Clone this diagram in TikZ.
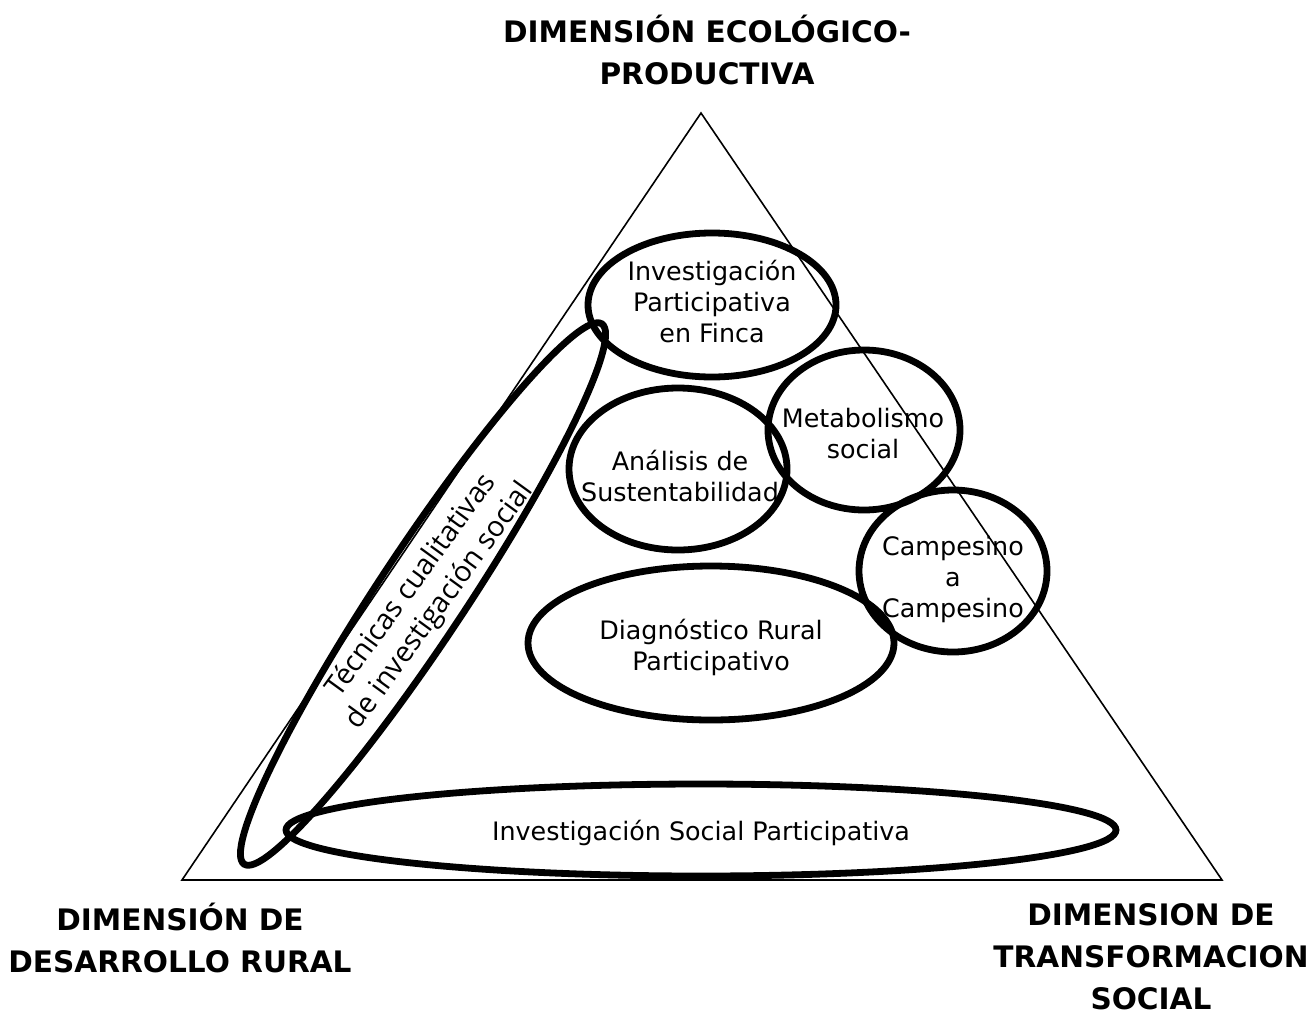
\documentclass[tikz,border=0pt]{standalone}
\usepackage{fontspec}
\setmainfont{DejaVu Sans}
\newfontfamily\rotfont{Open Sans}
\usetikzlibrary{shapes.geometric}

\begin{document}
\begin{tikzpicture}[x=0.5pt, y=-0.5pt,
    oval/.style={draw, ellipse, line width=3.4pt, inner sep=0pt, outer sep=0pt},
    lbl/.style={align=center, font=\fontsize{12.7}{15.5}\selectfont},
    dim/.style={align=center, inner sep=0pt, font=\fontsize{14.8}{21}\selectfont\bfseries}]
    \useasboundingbox (0,0) rectangle (1310,1012);

    % Define the three corners of the triangle and draw it
    \coordinate (top) at (701, 113);
    \coordinate (lft) at (182, 880);
    \coordinate (rgt) at (1222, 880);
    \draw[line width=0.8pt] (top) -- (lft) -- (rgt) -- cycle;

    % Labels of the three dimensions
    \node[dim] (dtop) at (707, 50) {DIMENSIÓN ECOLÓGICO-\\PRODUCTIVA};
    \node[dim] (dlft) at (180, 938) {DIMENSIÓN DE\\DESARROLLO RURAL};
    \node[dim] (drgt) at (1151, 957) {DIMENSION DE\\TRANSFORMACION\\SOCIAL};

    % Ovals for the methods inside the triangle
    \node[oval, minimum width=124pt, minimum height=72pt] (ipf) at (712, 305) {};
    \node[oval, minimum width=109pt, minimum height=81pt] (as) at (678, 469) {};
    \node[oval, minimum width=96pt, minimum height=80pt] (ms) at (864, 430) {};
    \node[oval, minimum width=94pt, minimum height=81pt] (cc) at (953, 571) {};
    \node[oval, minimum width=183pt, minimum height=77pt] (drp) at (711, 643) {};
    \node[oval, minimum width=415pt, minimum height=46pt] (isp) at (701, 830) {};
    \node[oval, minimum width=324pt, minimum height=44pt, rotate=56.5] (tcis) at (423, 594) {};

    % Texts of the ovals
    \node[lbl] (ipft) at (712, 302) {Investigación\\Participativa\\en Finca};
    \node[lbl] (ast) at (680, 476) {Análisis de\\Sustentabilidad};
    \node[lbl] (mst) at (863, 434) {Metabolismo\\social};
    \node[lbl] (cct) at (953, 579) {Campesino\\a\\Campesino};
    \node[lbl] (drpt) at (711, 647) {Diagnóstico Rural\\Participativo};
    \node[lbl] (ispt) at (701, 833) {Investigación Social Participativa};
    \node[align=center, rotate=54, font=\rotfont\fontsize{14.3}{17.4}\selectfont] (tcist) at (426, 596)
        {Técnicas cualitativas\\de investigación social};
\end{tikzpicture}
\end{document}
